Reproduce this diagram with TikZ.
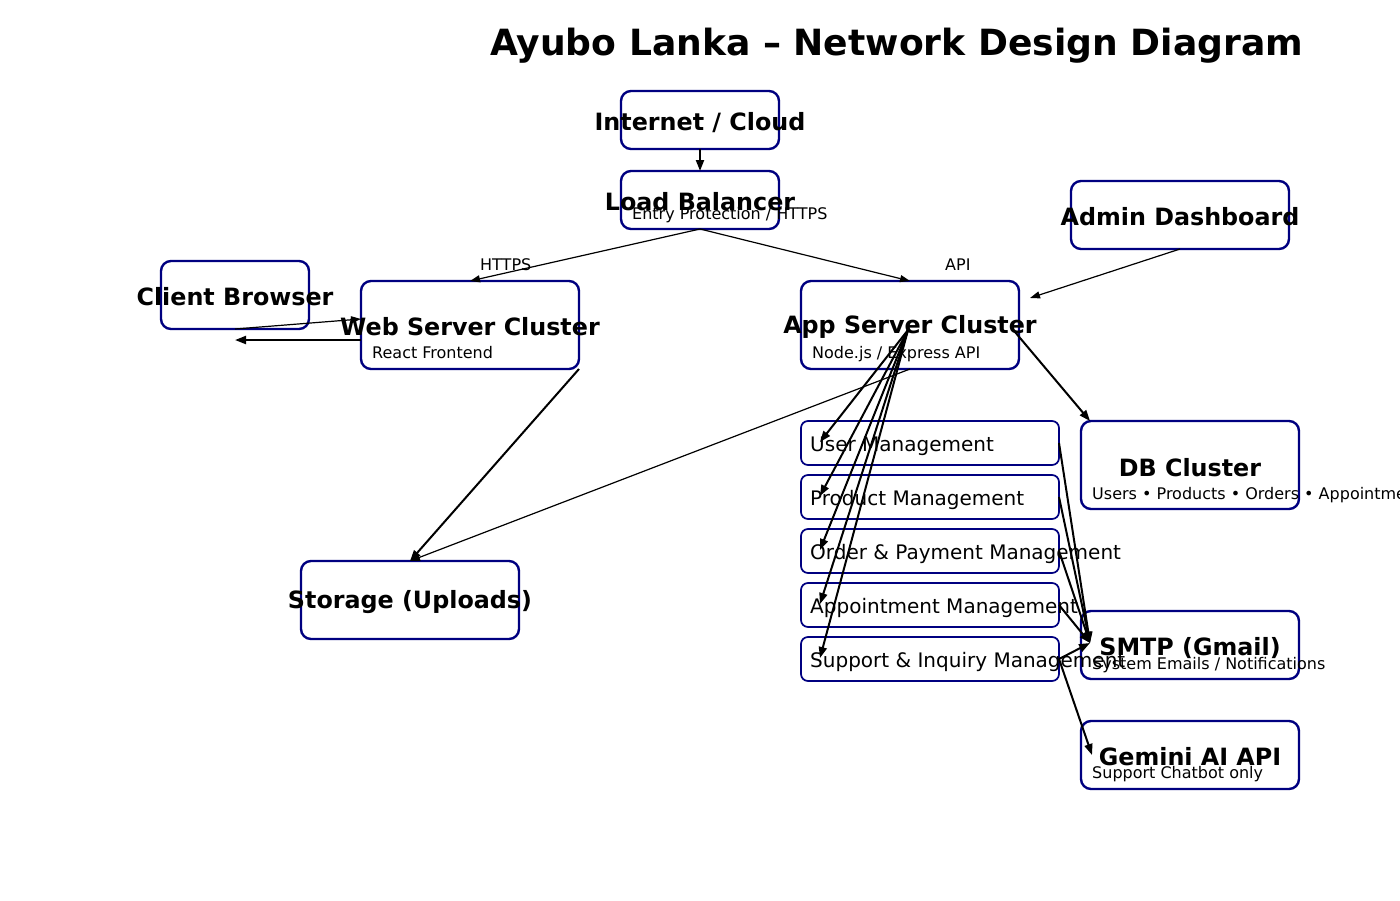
\documentclass[tikz,border=0pt]{standalone}
\usepackage{fontspec}
\setmainfont{DejaVu Sans}
\usetikzlibrary{arrows.meta,calc}
\definecolor{navy}{RGB}{0,0,128}
\tikzset{
 box/.style={draw=navy, line width=2.4pt, rounded corners=10pt, inner sep=0pt, outer sep=0pt},
 modbox/.style={draw=navy, line width=1.7pt, rounded corners=7pt, minimum width=258pt, minimum height=44pt, inner sep=0pt, outer sep=0pt},
 btitle/.style={font=\fontsize{23.8}{28}\selectfont\bfseries, anchor=base, inner sep=0pt},
 subtxt/.style={font=\fontsize{16}{19}\selectfont, anchor=base west, inner sep=0pt},
 modtxt/.style={font=\fontsize{20}{24}\selectfont, anchor=base west, inner sep=0pt},
 elabel/.style={font=\fontsize{16}{19}\selectfont, anchor=base west, inner sep=0pt},
 thinarr/.style={line width=1.2pt, -{Triangle[length=10pt,width=7pt]}},
 thickarr/.style={line width=2pt, -{Triangle[length=11pt,width=8pt]}},
}
\begin{document}
\begin{tikzpicture}[x=1pt,y=-1pt]
\useasboundingbox (0,0) rectangle (1400,900);
\fill[white] (0,0) rectangle (1400,900);
\clip (0,0) rectangle (1400,900);

% title
\node[font=\fontsize{36.1}{42}\selectfont\bfseries, anchor=base, inner sep=0pt] (title) at (896.5,55) {Ayubo Lanka – Network Design Diagram};

% boxes
\node[box, minimum width=158pt, minimum height=58pt] (inet) at (700,120) {};
\node[box, minimum width=158pt, minimum height=58pt] (lb) at (700,200) {};
\node[box, minimum width=218pt, minimum height=68pt] (admin) at (1180,215) {};
\node[box, minimum width=148pt, minimum height=68pt] (client) at (235,295) {};
\node[box, minimum width=218pt, minimum height=88pt] (web) at (470,325) {};
\node[box, minimum width=218pt, minimum height=88pt] (app) at (910,325) {};
\node[box, minimum width=218pt, minimum height=88pt] (db) at (1190,465) {};
\node[box, minimum width=218pt, minimum height=78pt] (storage) at (410,600) {};
\node[box, minimum width=218pt, minimum height=68pt] (smtp) at (1190,645) {};
\node[box, minimum width=218pt, minimum height=68pt] (gemini) at (1190,755) {};

\node[modbox] (user) at (930,443) {};
\node[modbox] (product) at (930,497) {};
\node[modbox] (order) at (930,551) {};
\node[modbox] (appt) at (930,605) {};
\node[modbox] (support) at (930,659) {};

% texts
\node[btitle] (tinet) at (700,130) {Internet / Cloud};
\node[btitle] (tlb) at (700,210) {Load Balancer};
\node[subtxt] (slb) at (632,219) {Entry Protection / HTTPS};
\node[btitle] (tadmin) at (1180,225) {Admin Dashboard};
\node[btitle] (tclient) at (235,305) {Client Browser};
\node[btitle] (tweb) at (470,335) {Web Server Cluster};
\node[subtxt] (sweb) at (372,358) {React Frontend};
\node[btitle] (tapp) at (910,333) {App Server Cluster};
\node[subtxt] (sapp) at (812,358) {Node.js / Express API};
\node[btitle] (tdb) at (1190,476) {DB Cluster};
\node[subtxt] (sdb) at (1092,499) {Users • Products • Orders • Appointments};
\node[btitle] (tstorage) at (410,608) {Storage (Uploads)};
\node[btitle] (tsmtp) at (1190,655) {SMTP (Gmail)};
\node[subtxt] (ssmtp) at (1092,669) {System Emails / Notifications};
\node[btitle] (tgemini) at (1190,765) {Gemini AI API};
\node[subtxt] (sgemini) at (1092,778) {Support Chatbot only};

\node[modtxt] (tuser) at (810,451) {User Management};
\node[modtxt] (tproduct) at (810,505) {Product Management};
\node[modtxt] (torder) at (810,559) {Order \& Payment Management};
\node[modtxt] (tappt) at (810,613) {Appointment Management};
\node[modtxt] (tsupport) at (810,667) {Support \& Inquiry Management};

\node[elabel] (lhttps) at (480,270) {HTTPS};
\node[elabel] (lapi) at (945,270) {API};

% helper coordinates
\coordinate (admintip) at ($(app.east)+(11,-27)$);
\coordinate (webin) at ($(web.west)+(0,-6)$);
\coordinate (webout) at ($(web.west)+(0,15)$);
\coordinate (clientin) at ($(client.south)+(0,11)$);
\coordinate (appc) at ($(app.center)+(-2,5)$);
\coordinate (appout) at ($(app.east)+(-4,7)$);
\coordinate (dbtip) at ($(db.north west)+(9,0)$);
\coordinate (smtptip) at ($(smtp.west)+(9,-2)$);
\coordinate (gemtip) at ($(gemini.west)+(11,0)$);

% connectors
\draw[thickarr] (inet.south) -- (lb.north);
\draw[thinarr] (lb.south) -- (web.north);
\draw[thinarr] (lb.south) -- (app.north);
\draw[thinarr] (admin.south) -- (admintip);
\draw[thinarr] (client.south) -- (webin);
\draw[thickarr] (webout) -- (clientin);
\draw[thickarr] (web.south east) -- (storage.north);
\draw[thinarr] (app.south) -- (storage.north);
\foreach \m in {user,product,order,appt,support}{
  \draw[thickarr] (appc) -- ($(\m.west)+(19,-1)$);
}
\draw[thickarr] (appout) -- (dbtip);
\foreach \m in {user,product,order,appt,support}{
  \draw[thickarr] (\m.east) -- (smtptip);
}
\draw[thickarr] (support.east) -- (gemtip);
\end{tikzpicture}
\end{document}
